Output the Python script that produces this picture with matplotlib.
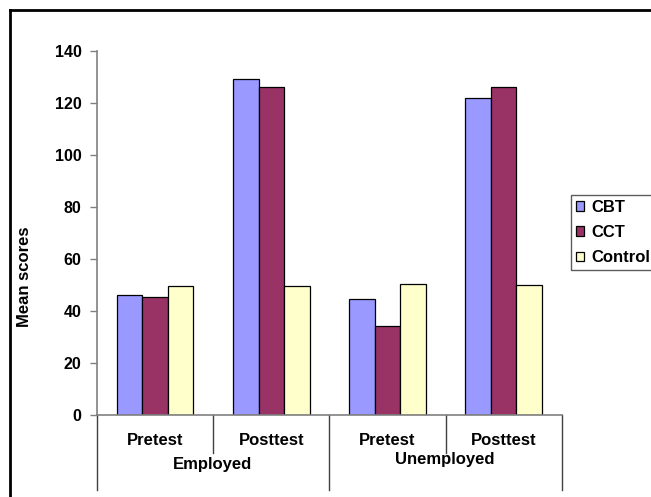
import matplotlib
matplotlib.use("Agg")
import matplotlib.pyplot as plt
from matplotlib.lines import Line2D
from matplotlib.transforms import blended_transform_factory
import numpy as np

plt.rcParams['font.family'] = ['Liberation Sans', 'DejaVu Sans']
plt.rcParams['font.weight'] = 'bold'

groups = ["Employed", "Unemployed"]
phases = ["Pretest", "Posttest", "Pretest", "Posttest"]
series = ["CBT", "CCT", "Control"]
cbt = [46.2, 129.2, 44.5, 121.9]
cct = [45.3, 126.2, 34.3, 126.2]
control = [49.7, 49.7, 50.5, 50.1]
colors = ["#9999FF", "#993366", "#FFFFCC"]

fig = plt.figure(figsize=(6.51, 4.97), dpi=100)
ax = fig.add_axes([0.149, 0.165, 0.714, 0.732])

x = np.arange(len(phases))
w = 0.22
for i, (vals, c, name) in enumerate(zip([cbt, cct, control], colors, series)):
    ax.bar(x + (i - 1) * w, vals, w, color=c, edgecolor="black", linewidth=0.9, label=name, zorder=2)

ax.set_xlim(-0.5, len(phases) - 0.5)
ax.set_ylim(0, 140)
ax.set_yticks(range(0, 141, 20))
ax.tick_params(axis='y', direction='out', length=5, width=1, color="#808080", labelsize=11.5, pad=6)
ax.tick_params(axis='x', bottom=False, labelbottom=False)
for s in ["top", "right"]:
    ax.spines[s].set_visible(False)
ax.spines["left"].set_color("#808080")
ax.spines["bottom"].set_color("#808080")
ax.spines["left"].set_linewidth(1.2)
ax.spines["bottom"].set_linewidth(1.2)
for lbl in ax.get_yticklabels():
    lbl.set_fontweight("bold")

ax.set_ylabel("Mean scores", fontsize=12, fontweight="bold")
ax.yaxis.set_label_coords(-0.140, 0.379)

# Two-level category axis
tr = blended_transform_factory(ax.transData, ax.transAxes)
for b in [0.5, 2.5]:
    ax.add_line(Line2D([b, b], [0, -0.104], transform=tr, color="#404040", lw=1, clip_on=False))
for b in [-0.5, 1.5, 3.5]:
    ax.add_line(Line2D([b, b], [0, -0.206], transform=tr, color="#404040", lw=1, clip_on=False))
for xi, p in zip(x, phases):
    ax.text(xi, -0.071, p, transform=tr, ha="center", va="center", fontsize=12, fontweight="bold")
ax.text(0.49, -0.137, groups[0], transform=tr, ha="center", va="center", fontsize=12, fontweight="bold")
ax.text(2.49, -0.121, groups[1], transform=tr, ha="center", va="center", fontsize=12, fontweight="bold")

leg = ax.legend(loc="upper left", bbox_to_anchor=(0.877, 0.608), bbox_transform=fig.transFigure,
                fontsize=12, frameon=True, fancybox=False, handlelength=0.5, handleheight=0.5,
                handletextpad=0.4, borderpad=0.3, labelspacing=0.62, borderaxespad=0)
leg.get_frame().set_edgecolor("#333333")
leg.get_frame().set_linewidth(1)
for t in leg.get_texts():
    t.set_fontweight("bold")

# Outer frame
fig.add_artist(Line2D([0.0154, 0.0154], [0, 0.98], transform=fig.transFigure, color="black", lw=2))
fig.add_artist(Line2D([0.0154, 1.0], [0.98, 0.98], transform=fig.transFigure, color="black", lw=2))

fig.savefig("out.png", dpi=100)
